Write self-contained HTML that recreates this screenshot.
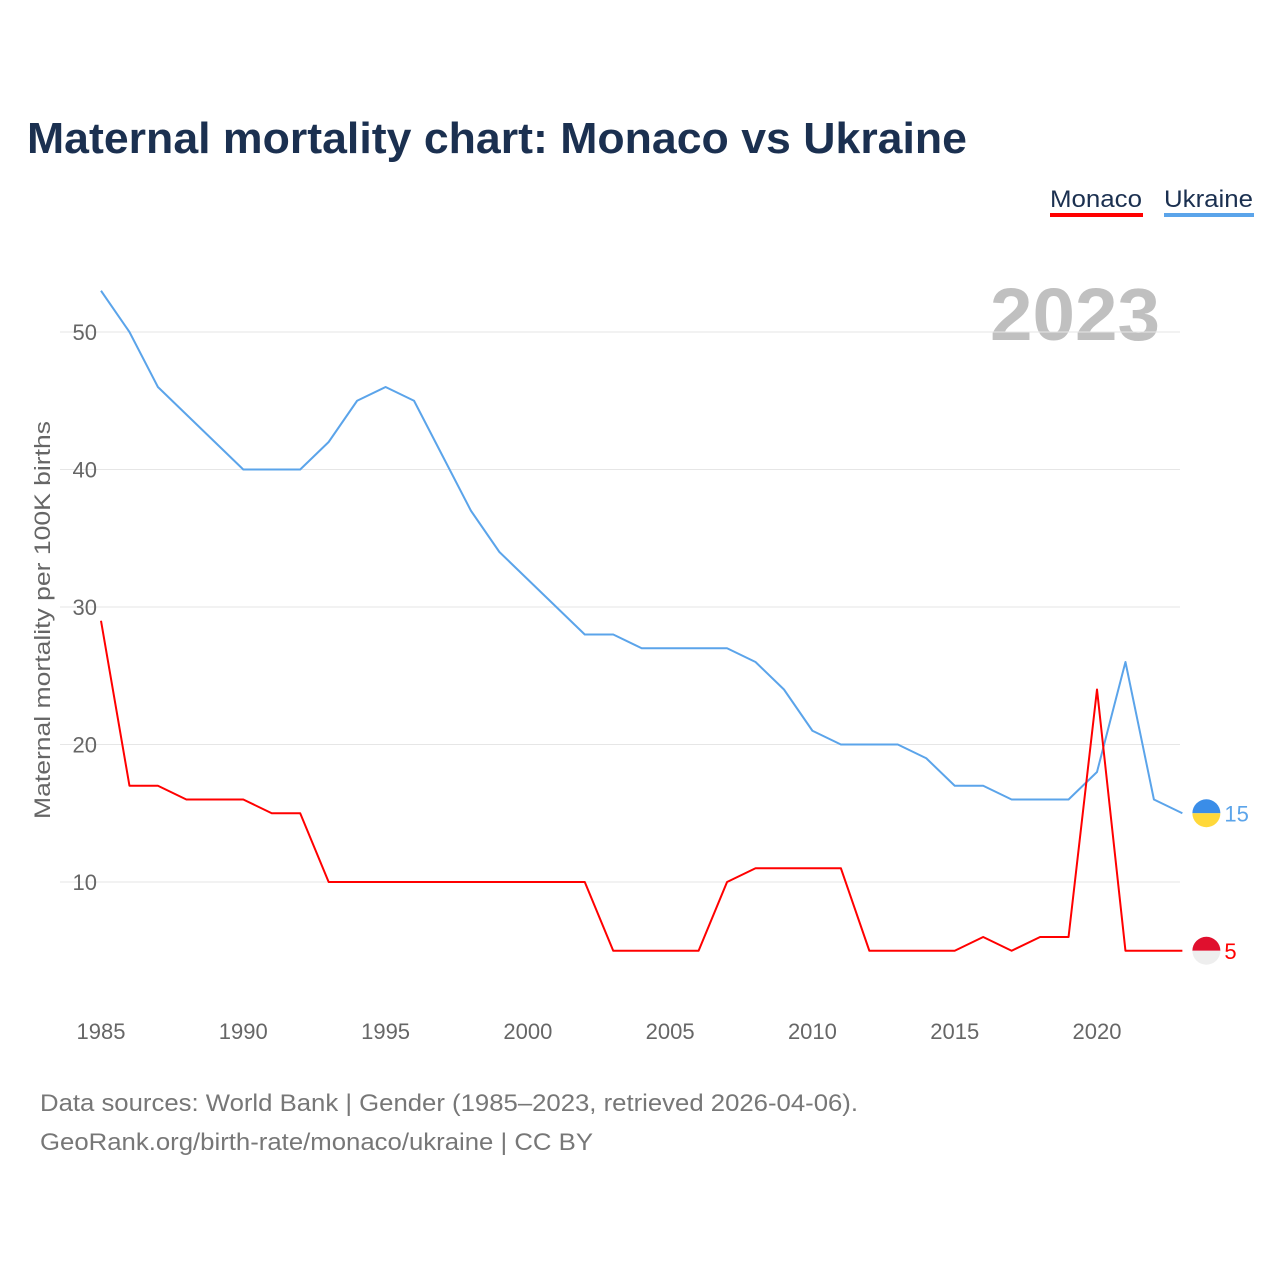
<!DOCTYPE html>
<html><head><meta charset="utf-8">
<style>
body{margin:0;background:#fff;}
svg{display:block;font-family:"Liberation Sans",sans-serif;}
</style></head>
<body>
<svg id="chart" width="1280" height="1280" viewBox="0 0 1280 1280">
<text x="27" y="153" font-size="44" font-weight="bold" fill="#1b3050" textLength="940" lengthAdjust="spacingAndGlyphs">Maternal mortality chart: Monaco vs Ukraine</text>
<g>
<text x="1050" y="207" font-size="24" fill="#1b3050" textLength="92" lengthAdjust="spacingAndGlyphs">Monaco</text>
<rect x="1050" y="213" width="93" height="4" fill="#ff0000"/>
<text x="1164" y="207" font-size="24" fill="#1b3050" textLength="89" lengthAdjust="spacingAndGlyphs">Ukraine</text>
<rect x="1164" y="213" width="90" height="4" fill="#5ba4ea"/>
</g>
<text x="1160" y="340" font-size="74" font-weight="bold" fill="#c0c0c0" text-anchor="end" textLength="170" lengthAdjust="spacingAndGlyphs">2023</text>
<g id="grid"></g>
<g id="axes"></g>
<g id="series"></g>
<text transform="translate(50,620) rotate(-90)" font-size="22" fill="#666" text-anchor="middle" textLength="398" lengthAdjust="spacingAndGlyphs">Maternal mortality per 100K births</text>
<text x="40" y="1111" font-size="24" fill="#777" textLength="818" lengthAdjust="spacingAndGlyphs">Data sources: World Bank | Gender (1985–2023, retrieved 2026-04-06).</text>
<text x="40" y="1150" font-size="24" fill="#777" textLength="553" lengthAdjust="spacingAndGlyphs">GeoRank.org/birth-rate/monaco/ukraine | CC BY</text>
</svg>
<script>
const years=[];for(let y=1985;y<=2023;y++)years.push(y);
const ukraine=[53,50,46,44,42,40,40,40,42,45,46,45,41,37,34,32,30,28,28,27,27,27,27,26,24,21,20,20,20,19,17,17,16,16,16,18,26,16,15];
const monaco=[29,17,17,16,16,16,15,15,10,10,10,10,10,10,10,10,10,10,5,5,5,5,10,11,11,11,11,5,5,5,5,6,5,6,6,24,5,5,5];
const yTicks=[10,20,30,40,50];
const xTicks=[1985,1990,1995,2000,2005,2010,2015,2020];
const NS='http://www.w3.org/2000/svg';
const xs=y=>101+(y-1985)*(996/35);
const ys=v=>1019.5-v*13.75;
function mk(tag,attrs,parent){const e=document.createElementNS(NS,tag);for(const k in attrs)e.setAttribute(k,attrs[k]);parent.appendChild(e);return e;}
const grid=document.getElementById('grid'),axes=document.getElementById('axes'),ser=document.getElementById('series');
yTicks.forEach(v=>{
 const l=mk('line',{x1:60,x2:1180,y1:ys(v),y2:ys(v),stroke:'#e6e6e6','stroke-width':1},grid);
 
 
 const t=mk('text',{x:97,y:ys(v)+8,'font-size':22,fill:'#666','text-anchor':'end'},axes);
 t.textContent=v;
 
 
});
xTicks.forEach(y=>{
 const t=mk('text',{x:xs(y),y:1039,'font-size':22,fill:'#666','text-anchor':'middle'},axes);
 t.textContent=y;
 
 
});
function line(data,color,name,flag1,flag2){
 const p=mk('polyline',{points:data.map((v,i)=>xs(years[i])+','+ys(v)).join(' '),fill:'none',stroke:color,'stroke-width':2,'stroke-linejoin':'round'},ser);
 
 
 const last=data[data.length-1],cx=xs(2023)+24,cy=ys(last);
 const g=mk('g',{},ser);
 
 
 mk('path',{d:`M${cx-14},${cy} A14,14 0 0 1 ${cx+14},${cy} Z`,fill:flag1},g);
 mk('path',{d:`M${cx-14},${cy} A14,14 0 0 0 ${cx+14},${cy} Z`,fill:flag2},g);
 const t=mk('text',{x:cx+18,y:cy+8,'font-size':22,fill:color},ser);
 t.textContent=last;
 
 
}
line(ukraine,'#5ba4ea','ukraine','#3a8de8','#ffd83a');
line(monaco,'#ff0000','monaco','#e0102e','#eeeeee');
</script>
</body></html>
